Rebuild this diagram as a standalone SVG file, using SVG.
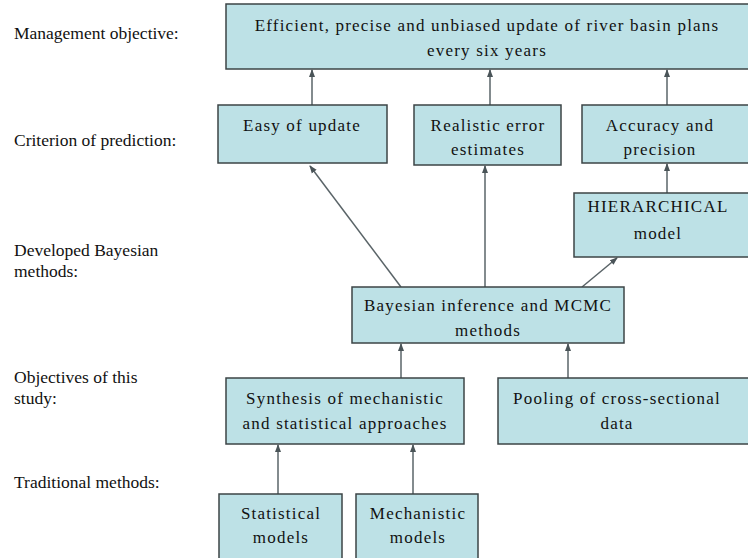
<svg xmlns="http://www.w3.org/2000/svg" width="748" height="558" viewBox="0 0 748 558">
<defs>
<style>
.box{fill:#bde1e6;stroke:#3c4446;stroke-width:1.5}
.ln{stroke:#5a6468;stroke-width:1.5;fill:none;marker-end:url(#ah)}
text{font-family:'Liberation Serif',serif;fill:#111}
.l{font-size:17.5px}
.c{text-anchor:middle;font-size:17px;letter-spacing:1.2px}
</style>
<marker id="ah" markerUnits="userSpaceOnUse" markerWidth="8" markerHeight="8" viewBox="0 0 8 8" refX="7" refY="4" orient="auto">
<path d="M0,1 L8,4 L0,7 Z" fill="#4a5458"/>
</marker>
</defs>
<rect width="748" height="558" fill="#fff"/>
<g id="labels">
<text class="l" x="14" y="39">Management objective:</text>
<text class="l" x="14" y="146">Criterion of prediction:</text>
<text class="l" x="14" y="256">Developed Bayesian</text>
<text class="l" x="14" y="277">methods:</text>
<text class="l" x="14" y="383">Objectives of this</text>
<text class="l" x="14" y="404">study:</text>
<text class="l" x="14" y="488">Traditional methods:</text>
</g>
<g id="connectors">
<line class="ln" x1="312" y1="105" x2="312" y2="70"/>
<line class="ln" x1="490" y1="105" x2="490" y2="70"/>
<line class="ln" x1="667" y1="105" x2="667" y2="70"/>
<line class="ln" x1="667" y1="193" x2="667" y2="164"/>
<line class="ln" x1="401" y1="287" x2="310" y2="166"/>
<line class="ln" x1="485" y1="287" x2="485" y2="166"/>
<line class="ln" x1="582" y1="287" x2="617" y2="258"/>
<line class="ln" x1="401" y1="378" x2="401" y2="344"/>
<line class="ln" x1="568" y1="378" x2="568" y2="344"/>
<line class="ln" x1="278" y1="494" x2="278" y2="445"/>
<line class="ln" x1="413" y1="494" x2="413" y2="445"/>
</g>
<g id="n-top">
<rect class="box" x="226" y="4" width="530" height="65"/>
<text class="c" x="487" y="31">Efficient, precise and unbiased update of river basin plans</text>
<text class="c" x="487" y="56">every six years</text>
</g>
<g id="n-easy">
<rect class="box" x="218" y="105" width="169" height="58"/>
<text class="c" x="302" y="131">Easy of update</text>
</g>
<g id="n-realistic">
<rect class="box" x="414" y="105" width="147" height="60"/>
<text class="c" x="488" y="131">Realistic error</text>
<text class="c" x="488" y="155">estimates</text>
</g>
<g id="n-accuracy">
<rect class="box" x="582" y="105" width="170" height="58"/>
<text class="c" x="660" y="131">Accuracy and</text>
<text class="c" x="660" y="155">precision</text>
</g>
<g id="n-hier">
<rect class="box" x="574" y="193" width="180" height="64"/>
<text class="c" x="658" y="212">HIERARCHICAL</text>
<text class="c" x="658" y="239">model</text>
</g>
<g id="n-bayes">
<rect class="box" x="352" y="287" width="272" height="56"/>
<text class="c" x="488" y="311">Bayesian inference and MCMC</text>
<text class="c" x="488" y="336">methods</text>
</g>
<g id="n-synth">
<rect class="box" x="226" y="378" width="238" height="66"/>
<text class="c" x="345" y="404">Synthesis of mechanistic</text>
<text class="c" x="345" y="429">and statistical approaches</text>
</g>
<g id="n-pool">
<rect class="box" x="498" y="378" width="256" height="66"/>
<text class="c" x="617" y="404">Pooling of cross-sectional</text>
<text class="c" x="617" y="429">data</text>
</g>
<g id="n-stat">
<rect class="box" x="219" y="494" width="123" height="72"/>
<text class="c" x="281" y="519">Statistical</text>
<text class="c" x="281" y="543">models</text>
</g>
<g id="n-mech">
<rect class="box" x="356" y="494" width="122" height="72"/>
<text class="c" x="418" y="519">Mechanistic</text>
<text class="c" x="418" y="543">models</text>
</g>
</svg>
